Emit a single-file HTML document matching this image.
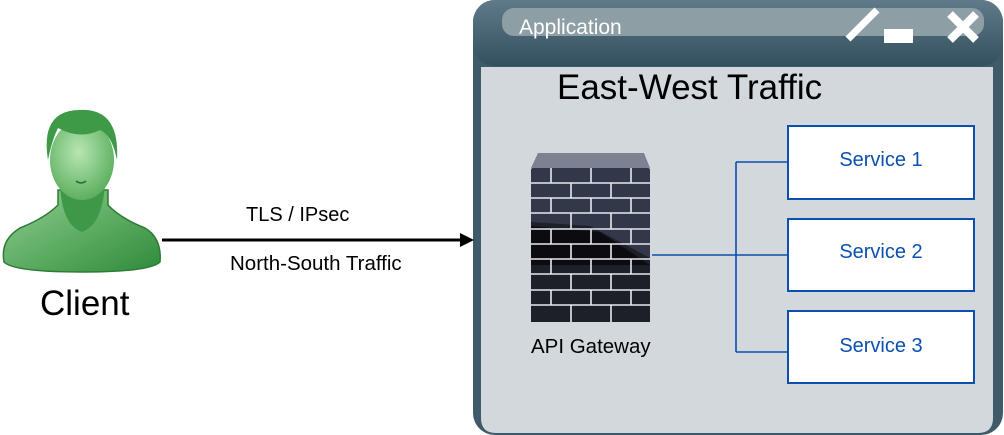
<!DOCTYPE html>
<html><head><style>
body{margin:0;width:1004px;height:435px;background:#fff;position:relative;overflow:hidden;font-family:"Liberation Sans",sans-serif}
.t{position:absolute;white-space:nowrap}
</style></head><body>
<svg width="1004" height="435" style="position:absolute;left:0;top:0">
<defs>
<linearGradient id="tb" x1="0" y1="0" x2="0" y2="1"><stop offset="0" stop-color="#607a89"/><stop offset="1" stop-color="#33505f"/></linearGradient>
<linearGradient id="gr" x1="0" y1="0" x2="1" y2="1"><stop offset="0" stop-color="#8fd08f"/><stop offset="1" stop-color="#2f8a3a"/></linearGradient>
<radialGradient id="face" cx="0.45" cy="0.4" r="0.7"><stop offset="0" stop-color="#b9e6b3"/><stop offset="1" stop-color="#4ea753"/></radialGradient>
</defs>
<rect x="473" y="0" width="530" height="435" rx="22" fill="#3f5a68"/>
<rect x="473" y="0" width="530" height="66" rx="22" fill="url(#tb)"/>
<rect x="502" y="8" width="482" height="28" rx="12" fill="#8d9ea5"/>
<path d="M481 67 H993 V418 Q993 433 978 433 H496 Q481 433 481 418 Z" fill="#d3d8dc"/>
<line x1="848" y1="39" x2="877" y2="10" stroke="#fff" stroke-width="7"/>
<rect x="884" y="29" width="29" height="14" fill="#fff"/>
<line x1="950" y1="14" x2="976" y2="40" stroke="#fff" stroke-width="8"/>
<line x1="976" y1="14" x2="950" y2="40" stroke="#fff" stroke-width="8"/>
<line x1="162" y1="240" x2="462" y2="240" stroke="#000" stroke-width="3"/>
<polygon points="474,240 460,233 460,247" fill="#000"/>
<path d="M652 255 H736 M736 162 V352 M736 162 H788 M736 255 H788 M736 352 H788" stroke="#0b4fb0" stroke-width="1.6" fill="none"/>
<rect x="788" y="126" width="186" height="73" fill="#fff" stroke="#0b4fb0" stroke-width="2"/>
<rect x="788" y="219" width="186" height="72" fill="#fff" stroke="#0b4fb0" stroke-width="2"/>
<rect x="788" y="311" width="186" height="72" fill="#fff" stroke="#0b4fb0" stroke-width="2"/>
<polygon points="538,153 644,153 650,168 531,168" fill="#7d8191"/>
<rect x="531" y="168" width="119" height="154" rx="2" fill="#33374a"/>
<polygon points="531,222 590,226 650,258 650,322 531,322 " fill="#1d1f29"/>
<polygon points="531,226 600,232 650,265 531,265" fill="#0c0c10"/>
<g stroke="#e8e8ee" stroke-width="1.6">
<line x1="531" y1="183" x2="650" y2="183"/><line x1="531" y1="198" x2="650" y2="198"/><line x1="531" y1="213" x2="650" y2="213"/><line x1="531" y1="229" x2="650" y2="229"/><line x1="531" y1="244" x2="650" y2="244"/><line x1="531" y1="259" x2="650" y2="259"/><line x1="531" y1="274" x2="650" y2="274"/><line x1="531" y1="290" x2="650" y2="290"/><line x1="531" y1="305" x2="650" y2="305"/>
<path d="M551 168V183M591 168V183M631 168V183M571 183V198M611 183V198M551 198V213M591 198V213M631 198V213M571 213V229M611 213V229M551 229V244M591 229V244M631 229V244M571 244V259M611 244V259M551 259V274M591 259V274M631 259V274M571 274V290M611 274V290M551 290V305M591 290V305M631 290V305M571 305V322M611 305V322"/>
</g>
<path d="M4 262 Q0 240 20 228 Q45 218 58 205 L58 190 L108 190 L108 205 Q120 218 145 228 Q162 238 160 262 Q150 272 82 272 Q14 272 4 262 Z" fill="url(#gr)" stroke="#2f7a35" stroke-width="1.5"/>
<path d="M60 185 Q62 225 82 232 Q102 225 105 185 Z" fill="#3f9848"/>
<ellipse cx="82" cy="160" rx="32" ry="40" fill="url(#face)"/>
<path d="M48 160 Q40 110 80 110 Q120 108 117 160 Q112 135 100 130 Q80 140 58 128 Q52 140 48 160 Z" fill="#3e9a46"/>
<path d="M76 181 Q81 185 86 181" stroke="#2d6e33" stroke-width="1.5" fill="none"/>
</svg>
<div class="t" style="left:519px;top:16px;font-size:21px;color:#fff">Application</div>
<div class="t" style="left:557px;top:68px;font-size:35px;color:#000">East-West Traffic</div>
<div class="t" style="left:40px;top:284px;font-size:35px;color:#000">Client</div>
<div class="t" style="left:246px;top:204px;font-size:20px">TLS / IPsec</div>
<div class="t" style="left:230px;top:252px;font-size:20.5px">North-South Traffic</div>
<div class="t" style="left:531px;top:335px;font-size:20.5px">API Gateway</div>
<div class="t" style="left:788px;width:186px;text-align:center;top:149px;font-size:20px;color:#0b4fb0">Service 1</div>
<div class="t" style="left:788px;width:186px;text-align:center;top:241px;font-size:20px;color:#0b4fb0">Service 2</div>
<div class="t" style="left:788px;width:186px;text-align:center;top:335px;font-size:20px;color:#0b4fb0">Service 3</div>
</body></html>
